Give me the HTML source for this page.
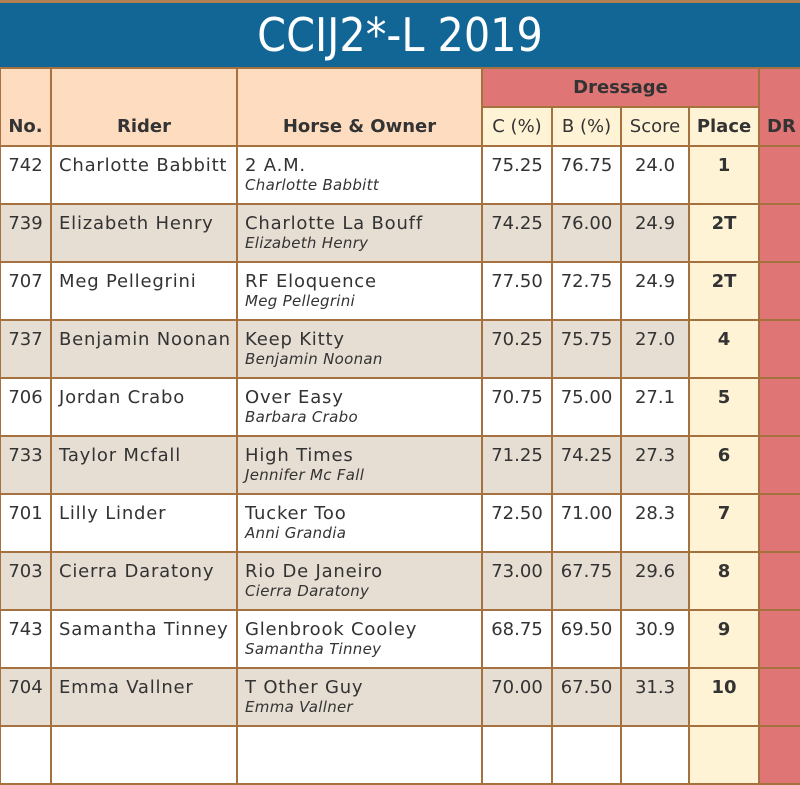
<!DOCTYPE html>
<html><head><meta charset="utf-8"><style>
html,body{margin:0;padding:0;background:#fff;width:800px;height:727px;overflow:hidden;font-family:"DejaVu Sans","Liberation Sans",sans-serif;color:#333}
#topline{position:absolute;left:0;top:0;width:800px;height:3px;background:#b08050}
#title{position:absolute;left:0;top:3px;width:800px;height:64px;background:#116695;color:#fff;font-size:46px;line-height:64px;text-align:center;font-family:"DejaVu Sans Condensed","DejaVu Sans",sans-serif}
table{position:absolute;left:-1px;top:67px;border-collapse:collapse;table-layout:fixed;width:820px}
td,th{border:2px solid #a5723f;padding:0;vertical-align:top;overflow:hidden;white-space:nowrap}
th{background:#fddcbf;font-weight:bold;font-size:18px;vertical-align:bottom;padding-bottom:8px;color:#333}
th.dr{background:#e07575}
th.sub{background:#fff3d6;font-weight:normal}
th.pl{background:#fff3d6;font-weight:bold}
th.grp{background:#e07575;vertical-align:middle;padding:0;height:37px}
td{height:58px;font-size:18px;line-height:20px;padding-top:9px;box-sizing:border-box}
tr.w td{background:#fff}
tr.g td{background:#e6ddd3}
td.c{text-align:center}
td.l{padding-left:7px;letter-spacing:0.8px}
td.pl{background:#fff3d6 !important;font-weight:bold;text-align:center}
td.dr{background:#e07575 !important}
i{font-size:15px;line-height:18px;display:block;letter-spacing:0.3px}
</style></head><body>
<div id="topline"></div>
<div id="title">CCIJ2*-L 2019</div>
<table>
<colgroup><col style="width:51px"><col style="width:186px"><col style="width:245px"><col style="width:70px"><col style="width:69px"><col style="width:68px"><col style="width:70px"><col style="width:61px"></colgroup>
<tr style="height:39px"><th rowspan="2">No.</th><th rowspan="2">Rider</th><th rowspan="2">Horse &amp; Owner</th><th colspan="4" class="grp">Dressage</th><th rowspan="2" class="dr" style="text-align:left;padding-left:7px">DR</th></tr>
<tr style="height:39px"><th class="sub">C (%)</th><th class="sub">B (%)</th><th class="sub">Score</th><th class="pl">Place</th></tr>
<tr class="w"><td class="c">742</td><td class="l">Charlotte Babbitt</td><td class="l">2 A.M.<i>Charlotte Babbitt</i></td><td class="c">75.25</td><td class="c">76.75</td><td class="c">24.0</td><td class="pl">1</td><td class="dr"></td></tr>
<tr class="g"><td class="c">739</td><td class="l">Elizabeth Henry</td><td class="l">Charlotte La Bouff<i>Elizabeth Henry</i></td><td class="c">74.25</td><td class="c">76.00</td><td class="c">24.9</td><td class="pl">2T</td><td class="dr"></td></tr>
<tr class="w"><td class="c">707</td><td class="l">Meg Pellegrini</td><td class="l">RF Eloquence<i>Meg Pellegrini</i></td><td class="c">77.50</td><td class="c">72.75</td><td class="c">24.9</td><td class="pl">2T</td><td class="dr"></td></tr>
<tr class="g"><td class="c">737</td><td class="l">Benjamin Noonan</td><td class="l">Keep Kitty<i>Benjamin Noonan</i></td><td class="c">70.25</td><td class="c">75.75</td><td class="c">27.0</td><td class="pl">4</td><td class="dr"></td></tr>
<tr class="w"><td class="c">706</td><td class="l">Jordan Crabo</td><td class="l">Over Easy<i>Barbara Crabo</i></td><td class="c">70.75</td><td class="c">75.00</td><td class="c">27.1</td><td class="pl">5</td><td class="dr"></td></tr>
<tr class="g"><td class="c">733</td><td class="l">Taylor Mcfall</td><td class="l">High Times<i>Jennifer Mc Fall</i></td><td class="c">71.25</td><td class="c">74.25</td><td class="c">27.3</td><td class="pl">6</td><td class="dr"></td></tr>
<tr class="w"><td class="c">701</td><td class="l">Lilly Linder</td><td class="l">Tucker Too<i>Anni Grandia</i></td><td class="c">72.50</td><td class="c">71.00</td><td class="c">28.3</td><td class="pl">7</td><td class="dr"></td></tr>
<tr class="g"><td class="c">703</td><td class="l">Cierra Daratony</td><td class="l">Rio De Janeiro<i>Cierra Daratony</i></td><td class="c">73.00</td><td class="c">67.75</td><td class="c">29.6</td><td class="pl">8</td><td class="dr"></td></tr>
<tr class="w"><td class="c">743</td><td class="l">Samantha Tinney</td><td class="l">Glenbrook Cooley<i>Samantha Tinney</i></td><td class="c">68.75</td><td class="c">69.50</td><td class="c">30.9</td><td class="pl">9</td><td class="dr"></td></tr>
<tr class="g"><td class="c">704</td><td class="l">Emma Vallner</td><td class="l">T Other Guy<i>Emma Vallner</i></td><td class="c">70.00</td><td class="c">67.50</td><td class="c">31.3</td><td class="pl">10</td><td class="dr"></td></tr>
<tr class="w"><td></td><td></td><td></td><td></td><td></td><td></td><td class="pl"></td><td class="dr"></td></tr>
</table>
</body></html>
